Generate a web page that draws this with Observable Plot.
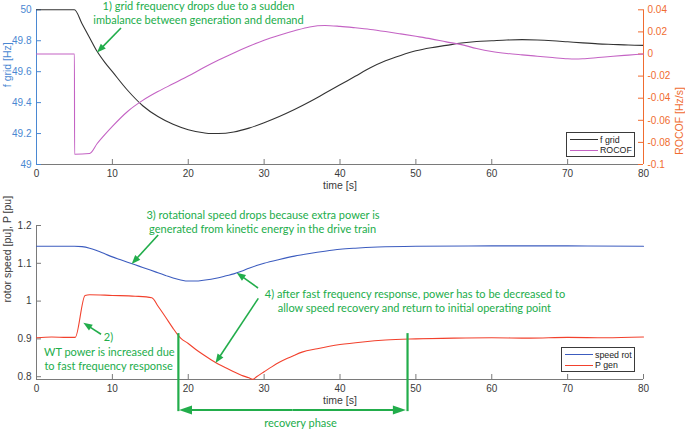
<!DOCTYPE html>
<html>
<head>
<meta charset="utf-8">
<script src="https://cdn.jsdelivr.net/npm/d3@7"></script>
<script src="https://cdn.jsdelivr.net/npm/@observablehq/plot@0.6"></script>
<style>
  html, body { margin: 0; padding: 0; background: white; }
  #chart { position: relative; width: 685px; height: 430px; overflow: hidden; font-family: "Liberation Sans", Arial, sans-serif; }
  #chart > svg { position: absolute; left: 0; top: 0; }
  .legend { position: absolute; background: white; border: 1px solid #3a3a3a; box-sizing: border-box; font-size: 8.8px; color: #222; }
  .legend .row { position: absolute; left: 0; height: 11px; display: flex; align-items: center; white-space: nowrap; }
  .legend .row span.ln { display: inline-block; width: 28px; height: 0; margin-left: 3px; margin-right: 2px; border-top: 1.2px solid; }
</style>
</head>
<body>
<div id="chart"></div>
<script>
// ---------------- data ----------------
const xTicks = [0, 10, 20, 30, 40, 50, 60, 70, 80];
const fTicks = [49, 49.2, 49.4, 49.6, 49.8, 50];
const rocofTicks = [-0.1, -0.08, -0.06, -0.04, -0.02, 0, 0.02, 0.04];
const pTicks = [0.8, 0.9, 1, 1.1, 1.2];

// f grid [Hz]
const fTime = [0, 5, 6, 7, 8, 9, 10, 12, 14, 16, 18, 20, 22, 23, 24, 26, 28, 30, 32, 34, 36, 38, 40, 42, 44, 46, 48, 50, 52, 54, 56, 58, 60, 62, 64, 66, 68, 70, 72, 74, 76, 78, 80];
const fGrid = [50, 50, 49.91, 49.82, 49.73, 49.66, 49.60, 49.48, 49.38, 49.31, 49.26, 49.225, 49.205, 49.2, 49.2, 49.21, 49.235, 49.27, 49.31, 49.355, 49.405, 49.46, 49.515, 49.57, 49.625, 49.67, 49.705, 49.735, 49.755, 49.77, 49.785, 49.795, 49.80, 49.805, 49.807, 49.805, 49.80, 49.793, 49.786, 49.78, 49.776, 49.772, 49.77];

// ROCOF [Hz/s]
const rTime = [0, 5, 5.02, 7, 8, 9, 10, 12, 14, 16, 18, 20, 22, 24, 26, 28, 30, 32, 34, 36, 38, 40, 42, 44, 46, 48, 50, 52, 54, 56, 58, 60, 62, 64, 66, 68, 70, 71, 72, 74, 76, 78, 80];
const rocof = [0, 0, -0.0907, -0.0900, -0.081, -0.073, -0.0655, -0.052, -0.042, -0.034, -0.027, -0.020, -0.0125, -0.0055, 0.001, 0.007, 0.0125, 0.017, 0.021, 0.0245, 0.0258, 0.025, 0.0237, 0.0222, 0.0203, 0.0182, 0.016, 0.0137, 0.011, 0.0085, 0.005, 0.0023, 0.0005, -0.0008, -0.002, -0.0032, -0.0043, -0.0045, -0.0043, -0.0032, -0.002, -0.001, 0];

// speed rot [pu]
const sTime = [0, 5, 6, 7, 8, 9, 10, 11, 12, 13, 14, 15, 16, 17, 18, 19, 20, 21, 22, 23, 24, 25, 26, 27, 28, 29, 30, 32, 34, 36, 38, 40, 42, 45, 50, 60, 70, 80];
const speedRot = [1.145, 1.145, 1.144, 1.140, 1.133, 1.125, 1.117, 1.110, 1.103, 1.096, 1.089, 1.082, 1.075, 1.068, 1.061, 1.056, 1.053, 1.053, 1.055, 1.058, 1.062, 1.067, 1.072, 1.079, 1.087, 1.094, 1.100, 1.110, 1.119, 1.126, 1.132, 1.137, 1.140, 1.143, 1.145, 1.146, 1.146, 1.145];

// P gen [pu]
const pTime = [0, 2, 4, 5.1, 6.4, 7, 10, 13, 15.2, 16, 17, 18, 18.5, 19, 20, 21, 22, 23, 24, 25, 26, 27, 28, 28.5, 29, 30, 31, 32, 33, 34, 35, 37, 40, 43, 46, 50, 55, 60, 65, 70, 75, 80];
const pGen = [0.903, 0.905, 0.904, 0.904, 1.015, 1.017, 1.015, 1.013, 1.009, 0.987, 0.958, 0.928, 0.914, 0.902, 0.888, 0.872, 0.858, 0.845, 0.833, 0.823, 0.813, 0.804, 0.797, 0.793, 0.800, 0.813, 0.826, 0.838, 0.848, 0.857, 0.865, 0.874, 0.885, 0.892, 0.897, 0.900, 0.902, 0.903, 0.902, 0.904, 0.903, 0.905];

const legendTop = [{name: "f grid", color: "#333333"}, {name: "ROCOF", color: "#c463c4"}];
const legendBottom = [{name: "speed rot", color: "#3c5cbf"}, {name: "P gen", color: "#f2412d"}];

// annotations (data coordinates of each panel)
const topNotes = [
  {t: 21.35, v: 50.021, text: "1) grid frequency drops due to a sudden"},
  {t: 21.35, v: 49.931, text: "imbalance between generation and demand"}
];
const topArrows = [{t1: 11.2, v1: 49.879, t2: 8.04, v2: 49.72}];
const bottomNotes = [
  {t: 29.85, v: 1.2265, text: "3) rotational speed drops because extra power is"},
  {t: 29.8, v: 1.189, text: "generated from kinetic energy in the drive train"},
  {t: 49.88, v: 1.0175, text: "4) after fast frequency response, power has to be decreased to"},
  {t: 49.8, v: 0.9796, text: "allow speed recovery and return to initial operating point"},
  {t: 9.49, v: 0.9037, text: "2)"},
  {t: 9.6, v: 0.8648, text: "WT power is increased due"},
  {t: 9.5, v: 0.8278, text: "to fast frequency response"},
  {t: 34.8, v: 0.677, text: "recovery phase"}
];
const bottomArrows = [
  {t1: 16.1, v1: 1.1735, t2: 12.61, v2: 1.097},
  {t1: 29.26, v1: 1.0333, t2: 26.45, v2: 1.0738},
  {t1: 29.3, v1: 1.006, t2: 23.66, v2: 0.835},
  {t1: 8.57, v1: 0.911, t2: 6.24, v2: 0.9415}
];
const recoveryBounds = [18.7, 48.9];
const recoveryTop = 0.914, recoveryLevel = 0.7106;

// ---------------- styling ----------------
const W = 685, H = 430;
const green = "#22ad4b";
const axisGray = "#7a7a7a";
const tickText = "#3a3a3a";
const blueAxis = "#4a88d2";
const orangeAxis = "#f06c30";
const noteFont = "Lato, 'Open Sans', sans-serif";

const topM = {left: 36, right: 42, top: 9.3, bottom: 266};
const botM = {left: 36, right: 42, top: 225, bottom: 51};
const fw = W - topM.left - topM.right;
const topFH = H - topM.top - topM.bottom;
const botFH = H - botM.top - botM.bottom;

const baseStyle = {background: "none", overflow: "visible", fontFamily: "'Liberation Sans', Arial, sans-serif", fontSize: "10px"};
const fmt = d => String(+d.toFixed(3));

function arrows(list, {head = 9, width = 7, sw = 1.6, color = green} = {}) {
  return (index, scales) => {
    const g = d3.create("svg:g");
    for (const a of list) {
      const x1 = scales.x(a.t1), y1 = scales.y(a.v1), x2 = scales.x(a.t2), y2 = scales.y(a.v2);
      const ang = Math.atan2(y2 - y1, x2 - x1);
      const c = Math.cos(ang), s = Math.sin(ang);
      const bx = x2 - head * c, by = y2 - head * s;
      g.append("line").attr("x1", x1).attr("y1", y1).attr("x2", bx + c).attr("y2", by + s)
        .attr("stroke", color).attr("stroke-width", sw);
      g.append("path")
        .attr("d", `M${x2},${y2}L${bx - width / 2 * s},${by + width / 2 * c}L${bx + width / 2 * s},${by - width / 2 * c}Z`)
        .attr("fill", color);
    }
    return g.node();
  };
}

function notes(list) {
  return Plot.text(list, {x: "t", y: "v", text: "text", fill: green, fontFamily: noteFont, fontSize: 11, textAnchor: "middle", lineAnchor: "middle"});
}

const fData = fTime.map((t, i) => ({t, v: fGrid[i]}));
const rData = rTime.map((t, i) => ({t, v: rocof[i]}));
const sData = sTime.map((t, i) => ({t, v: speedRot[i]}));
const pData = pTime.map((t, i) => ({t, v: pGen[i]}));

// ---------- top panel (left axis: f grid) ----------
const topLeft = Plot.plot({
  width: W, height: H,
  marginLeft: topM.left, marginRight: topM.right, marginTop: topM.top, marginBottom: topM.bottom,
  x: {domain: [0, 80]},
  y: {domain: [49, 50]},
  style: baseStyle,
  marks: [
    Plot.ruleY([49], {stroke: axisGray}),
    Plot.ruleX(xTicks, {stroke: axisGray, insetTop: topFH - 5}),
    Plot.ruleX([0], {stroke: blueAxis}),
    Plot.ruleY(fTicks, {stroke: blueAxis, insetRight: fw - 5}),
    Plot.axisX({ticks: xTicks, tickSize: 0, tickPadding: 5, label: null, color: tickText, tickFormat: fmt}),
    Plot.axisY({ticks: fTicks, tickSize: 0, tickPadding: 5, label: null, color: blueAxis, tickFormat: fmt}),
    Plot.text(["time [s]"], {frameAnchor: "bottom", dy: 24.5, fill: tickText, fontSize: 10.5}),
    Plot.text(["f grid [Hz]"], {frameAnchor: "left", dx: -29, rotate: -90, fill: blueAxis, fontSize: 10.5}),
    Plot.line(fData, {x: "t", y: "v", stroke: legendTop[0].color, strokeWidth: 1.1, curve: "monotone-x"}),
    notes(topNotes),
    arrows(topArrows)
  ]
});

// ---------- top panel (right axis: ROCOF) ----------
const topRight = Plot.plot({
  width: W, height: H,
  marginLeft: topM.left, marginRight: topM.right, marginTop: topM.top, marginBottom: topM.bottom,
  x: {domain: [0, 80], axis: null},
  y: {domain: [-0.1, 0.04], axis: null},
  style: baseStyle,
  marks: [
    Plot.ruleX([80], {stroke: orangeAxis}),
    Plot.ruleY(rocofTicks, {stroke: orangeAxis, insetLeft: fw - 5}),
    Plot.axisY({anchor: "right", ticks: rocofTicks, tickSize: 0, tickPadding: 4, label: null, color: orangeAxis, tickFormat: fmt}),
    Plot.text(["ROCOF [Hz/s]"], {frameAnchor: "right", dx: 36, rotate: -90, fill: orangeAxis, fontSize: 10.5}),
    Plot.line(rData, {x: "t", y: "v", stroke: legendTop[1].color, strokeWidth: 1.1, curve: "monotone-x"})
  ]
});

// ---------- bottom panel ----------
const bottom = Plot.plot({
  width: W, height: H,
  marginLeft: botM.left, marginRight: botM.right, marginTop: botM.top, marginBottom: botM.bottom,
  x: {domain: [0, 80]},
  y: {domain: [0.7926, 1.2]},
  style: baseStyle,
  marks: [
    Plot.ruleY([0.7926], {stroke: axisGray}),
    Plot.ruleX([0], {stroke: axisGray}),
    Plot.ruleX(xTicks, {stroke: axisGray, insetTop: botFH - 5}),
    Plot.ruleY(pTicks, {stroke: axisGray, insetRight: fw - 5}),
    Plot.axisX({ticks: xTicks, tickSize: 0, tickPadding: 5, label: null, color: tickText, tickFormat: fmt}),
    Plot.axisY({ticks: pTicks, tickSize: 0, tickPadding: 5, label: null, color: tickText, tickFormat: fmt}),
    Plot.text(["time [s]"], {frameAnchor: "bottom", dy: 24, fill: tickText, fontSize: 10.5}),
    Plot.text(["rotor speed [pu], P [pu]"], {frameAnchor: "left", dx: -29, rotate: -90, fill: tickText, fontSize: 10.5}),
    Plot.line(sData, {x: "t", y: "v", stroke: legendBottom[0].color, strokeWidth: 1.1, curve: "monotone-x"}),
    Plot.line(pData, {x: "t", y: "v", stroke: legendBottom[1].color, strokeWidth: 1.1, curve: "monotone-x"}),
    notes(bottomNotes),
    arrows(bottomArrows),
    Plot.ruleX(recoveryBounds, {y1: recoveryTop, y2: recoveryLevel - 0.003, stroke: green, strokeWidth: 2.2}),
    arrows([
      {t1: (recoveryBounds[0] + recoveryBounds[1]) / 2, v1: recoveryLevel, t2: recoveryBounds[0] + 0.15, v2: recoveryLevel},
      {t1: (recoveryBounds[0] + recoveryBounds[1]) / 2, v1: recoveryLevel, t2: recoveryBounds[1] - 0.15, v2: recoveryLevel}
    ], {head: 13, width: 9, sw: 2.2})
  ]
});

const chart = document.getElementById("chart");
chart.append(topLeft, topRight, bottom);

function legend(items, left, top, width, height) {
  const box = document.createElement("div");
  box.className = "legend";
  Object.assign(box.style, {left: left + "px", top: top + "px", width: width + "px", height: height + "px"});
  items.forEach((it, i) => {
    const row = document.createElement("div");
    row.className = "row";
    row.style.top = (1.5 + i * 10.5) + "px";
    const ln = document.createElement("span");
    ln.className = "ln";
    ln.style.borderTopColor = it.color;
    const tx = document.createElement("span");
    tx.textContent = it.name;
    row.append(ln, tx);
    box.append(row);
  });
  chart.append(box);
}
legend(legendTop, 566, 131.5, 69, 25);
legend(legendBottom, 561, 346.5, 74, 25.5);
</script>
</body>
</html>
